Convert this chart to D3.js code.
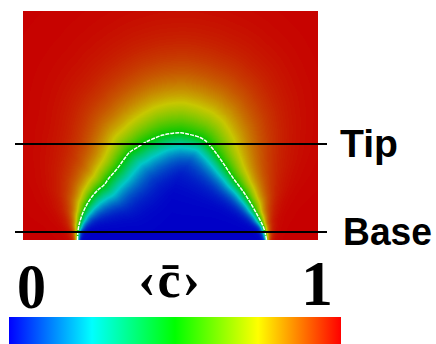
<!DOCTYPE html>
<html>
<head>
<meta charset="utf-8">
<script src="https://cdn.jsdelivr.net/npm/d3@7"></script>
<style>
  html, body { margin: 0; padding: 0; background: #fff; }
  svg { display: block; }
</style>
</head>
<body>
<svg id="chart" width="436" height="344"></svg>
<script>
// Flame front: the <c> = 0.5 iso-line, in domain units (x across, y up from the inlet)
const frontX = [-6.31, -6.28, -6.20, -6.00, -5.69, -5.29, -4.85, -4.51, -4.17, -3.63, -3.19,
                -2.75, -2.20, -1.86, -1.59, -1.05, -0.51, 0.10, 0.71, 1.32, 2.00, 2.34,
                2.58, 3.02, 3.58, 4.26, 4.94, 5.51, 5.95, 6.29, 6.45, 6.51];
const frontY = [0.00, 0.54, 1.02, 1.69, 2.37, 2.98, 3.46, 3.73, 4.20, 4.81, 5.42,
                5.97, 6.31, 6.54, 6.68, 6.92, 7.12, 7.23, 7.27, 7.15, 6.95, 6.75,
                6.51, 5.99, 5.20, 4.18, 3.27, 2.37, 1.58, 0.90, 0.34, 0.00];
// Local flame-brush thickness on the burnt (outer) and fresh (inner) side of the front
const brushOut = [0.14, 0.20, 0.34, 0.54, 0.81, 1.02, 1.22, 1.36, 1.49, 1.63, 1.83,
                  2.03, 2.24, 2.37, 2.58, 2.78, 2.98, 3.12, 3.12, 3.05, 2.85, 2.64,
                  2.44, 2.17, 1.76, 1.42, 1.08, 0.81, 0.47, 0.27, 0.20, 0.14];
const brushIn = [0.14, 0.20, 0.41, 0.68, 1.02, 1.29, 1.56, 1.76, 1.83, 1.90, 1.97,
                 2.03, 2.10, 2.10, 2.10, 2.03, 1.97, 1.90, 1.83, 1.76, 1.63, 1.56,
                 1.49, 1.42, 1.29, 1.08, 0.88, 0.68, 0.47, 0.27, 0.20, 0.14];

// Probe lines
const probeLabels = ["Tip", "Base"];
const probeHeights = [6.51, 0.54];

// Colour map
const stopValues = [0, 0.25, 0.5, 0.75, 1];
const colorStops = ["#0000ff", "#00ffff", "#00ff00", "#ffff00", "#ff0000"];
const barTicks = ["0", "1"];
const barTitle = "\u2039c\u0304\u203A";

const svg = d3.select("#chart");

const x = d3.scaleLinear().domain([-10, 10]).range([23, 318]);
const y = d3.scaleLinear().domain([0, 15.53]).range([240, 11]);
const color = d3.scaleLinear().domain(stopValues).range(colorStops).interpolate(d3.interpolateRgb);
const shade = 0.78; // lit surface is darker than the bar

// ---- field image ----
const x0 = Math.round(x(-10)), x1 = Math.round(x(10));
const y0 = Math.round(y(15.53)), y1 = Math.round(y(0));
const W = x1 - x0, H = y1 - y0;
const pxPerUnit = x(1) - x(0);

const pts = frontX.map((v, i) => [x(v), y(frontY[i])]);
const wo = brushOut.map(v => v * pxPerUnit);
const wi = brushIn.map(v => v * pxPerUnit);

// colour lookup
const LUT = d3.range(256).map(i => {
  const c = d3.rgb(color(i / 255));
  return [c.r * shade, c.g * shade, c.b * shade];
});

const canvas = document.createElement("canvas");
canvas.width = W; canvas.height = H;
const ctx = canvas.getContext("2d");
const img = ctx.createImageData(W, H);

for (let j = 0; j < H; j++) {
  const py = y0 + j + 0.5;
  for (let i = 0; i < W; i++) {
    const px = x0 + i + 0.5;
    let dmin = Infinity, sw = 0, swo = 0, swi = 0;
    for (let s = 0; s < pts.length - 1; s++) {
      const ax = pts[s][0], ay = pts[s][1], bx = pts[s + 1][0], by = pts[s + 1][1];
      const dx = bx - ax, dy = by - ay;
      let t = ((px - ax) * dx + (py - ay) * dy) / (dx * dx + dy * dy);
      t = Math.max(0, Math.min(1, t));
      const qx = ax + t * dx - px, qy = ay + t * dy - py;
      const d = Math.sqrt(qx * qx + qy * qy);
      if (d < dmin) dmin = d;
      const wgt = 1 / Math.pow(d * d + 1, 2);
      sw += wgt;
      swo += wgt * (wo[s] + (wo[s + 1] - wo[s]) * t);
      swi += wgt * (wi[s] + (wi[s + 1] - wi[s]) * t);
    }
    const inside = d3.polygonContains(pts, [px, py]);
    const c = inside ? 0.5 - 0.5 * Math.tanh(dmin / (swi / sw))
                     : 1 - 0.5 * Math.exp(-dmin / (swo / sw));
    const col = LUT[Math.max(0, Math.min(255, Math.round(c * 255)))];
    const k = (j * W + i) * 4;
    img.data[k] = col[0]; img.data[k + 1] = col[1]; img.data[k + 2] = col[2]; img.data[k + 3] = 255;
  }
}
ctx.putImageData(img, 0, 0);

svg.append("image")
  .attr("x", x0).attr("y", y0)
  .attr("width", W).attr("height", H)
  .attr("href", canvas.toDataURL());

// ---- front iso-line ----
svg.append("path")
  .datum(pts)
  .attr("d", d3.line().curve(d3.curveCatmullRom))
  .attr("fill", "none")
  .attr("stroke", "#ffffff")
  .attr("stroke-width", 1.5)
  .attr("stroke-dasharray", "4,1");

// ---- probe lines and labels ----
const probes = svg.append("g").selectAll("g")
  .data(probeLabels.map((l, i) => ({ label: l, h: probeHeights[i] })))
  .join("g");

probes.append("line")
  .attr("x1", x(-10) - 8).attr("x2", x(10) + 9)
  .attr("y1", d => y(d.h)).attr("y2", d => y(d.h))
  .attr("stroke", "#000").attr("stroke-width", 2);

probes.append("text")
  .attr("x", (d, i) => i === 0 ? 340 : 343)
  .attr("y", d => y(d.h) + 13)
  .attr("font-family", "'Liberation Sans', Arial, sans-serif")
  .attr("font-weight", "bold")
  .attr("font-size", 39)
  .attr("textLength", (d, i) => i === 0 ? 58 : 89)
  .attr("lengthAdjust", "spacingAndGlyphs")
  .attr("fill", "#000")
  .text(d => d.label);

// ---- colour bar ----
const bx = d3.scaleLinear().domain([0, 1]).range([9, 341]);
const grad = svg.append("defs").append("linearGradient")
  .attr("id", "bar-grad").attr("x1", "0%").attr("x2", "100%");
grad.selectAll("stop")
  .data(stopValues)
  .join("stop")
  .attr("offset", d => d * 100 + "%")
  .attr("stop-color", (d, i) => colorStops[i]);

svg.append("rect")
  .attr("x", bx(0)).attr("y", 317)
  .attr("width", bx(1) - bx(0)).attr("height", 27)
  .attr("fill", "url(#bar-grad)");

const serif = "'Liberation Serif', 'Times New Roman', serif";
svg.selectAll("text.tick")
  .data(barTicks)
  .join("text")
  .attr("class", "tick")
  .attr("x", (d, i) => i === 0 ? bx(0) + 8 : bx(1) - 24)
  .attr("y", (d, i) => i === 0 ? 308 : 305)
  .attr("text-anchor", (d, i) => i === 0 ? "start" : "middle")
  .attr("font-family", serif)
  .attr("font-weight", "bold")
  .attr("font-size", 64)
  .attr("textLength", (d, i) => i === 0 ? 29 : null)
  .attr("lengthAdjust", "spacingAndGlyphs")
  .attr("fill", "#000")
  .text(d => d);

svg.append("text")
  .attr("x", 170).attr("y", 297)
  .attr("text-anchor", "middle")
  .attr("font-family", serif)
  .attr("font-weight", "bold")
  .attr("font-size", 52)
  .attr("letter-spacing", 2)
  .attr("fill", "#000")
  .text(barTitle);
</script>
</body>
</html>
